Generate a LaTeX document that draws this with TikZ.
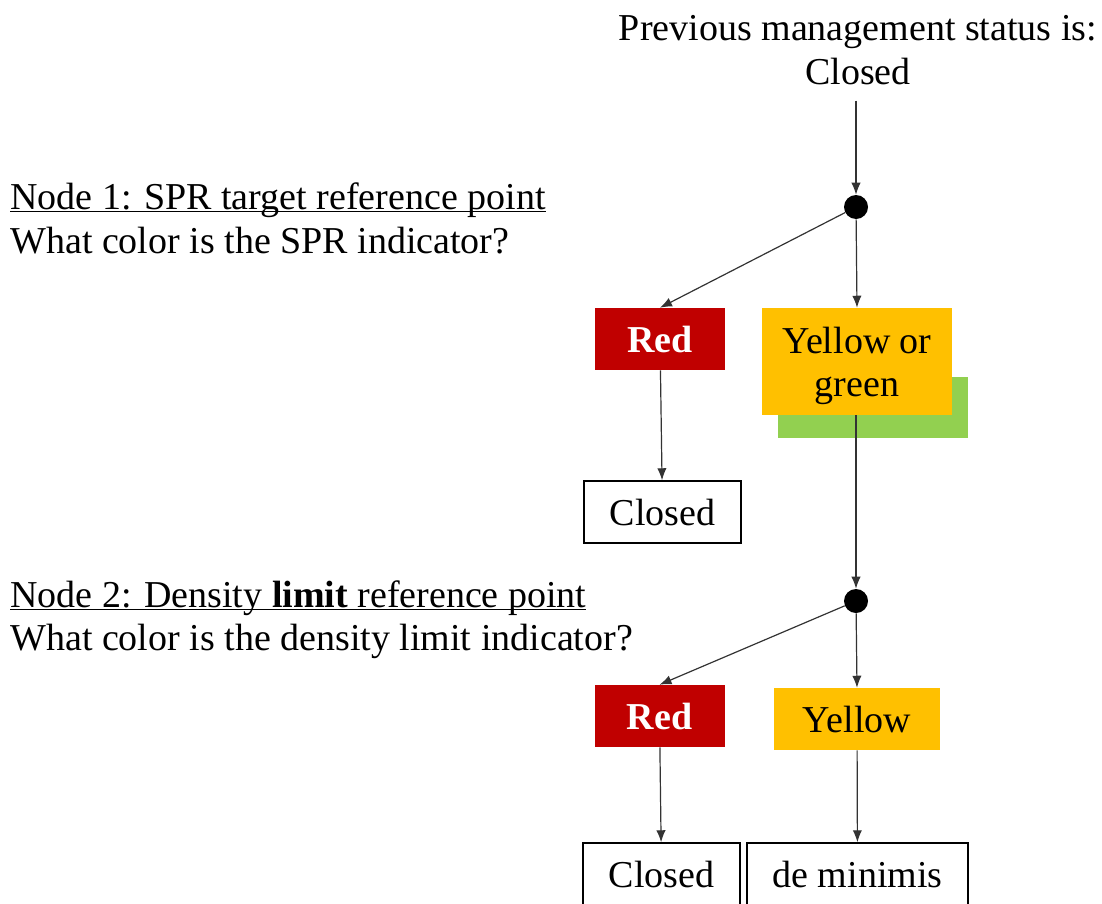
\documentclass[tikz,border=0pt]{standalone}
\usepackage{fontspec}
\setmainfont{Liberation Serif}
\usetikzlibrary{arrows.meta,positioning}
\definecolor{boxred}{HTML}{C00000}
\definecolor{boxyellow}{HTML}{FFC000}
\definecolor{boxgreen}{HTML}{92D050}
\begin{document}
\begin{tikzpicture}[x=0.75pt,y=-0.75pt,
every node/.style={font=\fontsize{28.5}{32.5}\selectfont,inner sep=0pt},
txt/.style={anchor=base west},
colbox/.style={minimum width=97.5pt,minimum height=46.5pt},
whitebox/.style={draw=black,line width=1.1pt,minimum width=117.75pt,minimum height=46.5pt},
dot/.style={circle,fill=black,minimum size=18pt},
arr/.style={-{Latex[length=9pt,width=7pt]},line width=0.9pt,draw=black!80}]
\clip (0,0) rectangle (1102,903);
\node [align=center] (prev) at (858,50) {Previous management status is:\\Closed};
\node [txt] (node1) at (10,209) {\underline{\smash{Node 1: SPR target reference point}}};
\node [txt] (ask1) at (10,253) {What color is the SPR indicator?};
\node [txt] (node2) at (10,607) {\underline{\smash{Node 2: Density \textbf{limit} reference point}}};
\node [txt] (ask2) at (10,650) {What color is the density limit indicator?};

\node [dot] (d1) at (856,207) {};
\node [colbox,fill=boxred,text=white,font=\fontsize{28.5}{32.5}\selectfont\bfseries] (red1) at (660,339) {Red};
\node [colbox,fill=boxgreen,minimum width=142.5pt,minimum height=45.75pt] (grn) at (873,407.5) {};
\node [colbox,fill=boxyellow,minimum width=142.5pt,minimum height=80.25pt,align=center,text depth=0pt] (yog) at (857,361.5) {Yellow or\\green};
\node [whitebox] (closed1) at (662.5,512) {Closed};

\node [dot] (d2) at (856,601) {};
\node [colbox,fill=boxred,text=white,font=\fontsize{28.5}{32.5}\selectfont\bfseries] (red2) at (659.5,716) {Red};
\node [colbox,fill=boxyellow,minimum width=124.5pt] (yel2) at (857,719) {Yellow};
\node [whitebox] (closed2) at (661.5,874) {Closed};
\node [whitebox,minimum width=165.75pt] (demin) at (857.5,874) {de minimis};

\draw [arr,shorten <=12pt] (prev.south -| d1) -- (d1.north);
\draw [arr] (d1) -- (red1.north);
\draw [arr] (d1) -- (yog.north);
\draw [arr] (red1) -- (closed1);
\draw [arr] (yog.south -| d2) -- (d2.north);
\draw [arr] (d2) -- (red2.north);
\draw [arr] (d2) -- (yel2.north);
\draw [arr] (red2) -- (closed2);
\draw [arr] (yel2) -- (demin);
\end{tikzpicture}
\end{document}
